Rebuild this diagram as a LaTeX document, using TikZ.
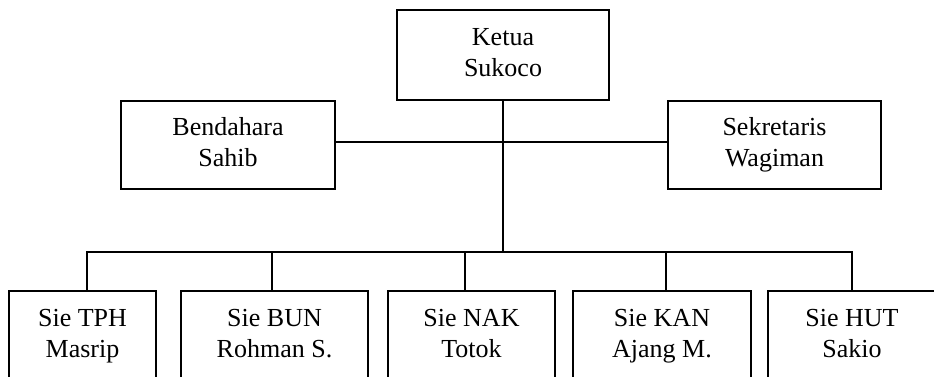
\documentclass[tikz,border=0pt]{standalone}
\usepackage{fontspec}
\setmainfont{Liberation Serif}
\begin{document}
\begin{tikzpicture}[x=1pt,y=-1pt,
  box/.style={draw,line width=1.1pt,inner sep=0pt,align=center,
    font=\fontsize{26}{31}\selectfont},
  line/.style={line width=1.1pt}]
\useasboundingbox (0,0) rectangle (934,376);
\clip (0,0) rectangle (934,376);
% top level
\node[box,minimum width=212pt,minimum height=90pt] (ketua) at (503,55) {\strut Ketua\\\strut Sukoco};
\node[box,minimum width=214pt,minimum height=88pt] (bend) at (228,145) {\strut Bendahara\\\strut Sahib};
\node[box,minimum width=213pt,minimum height=88pt] (sekr) at (774.5,145) {\strut Sekretaris\\\strut Wagiman};
% sections
\node[box,minimum width=147pt,minimum height=90pt] (tph) at (82.5,336) {\strut Sie TPH\\\strut Masrip};
\node[box,minimum width=187pt,minimum height=90pt] (bun) at (274.5,336) {\strut Sie BUN\\\strut Rohman S.};
\node[box,minimum width=167pt,minimum height=90pt] (nak) at (471.5,336) {\strut Sie NAK\\\strut Totok};
\node[box,minimum width=178pt,minimum height=90pt] (kan) at (662,336) {\strut Sie KAN\\\strut Ajang M.};
\node[box,minimum width=168pt,minimum height=90pt] (hut) at (852,336) {\strut Sie HUT\\\strut Sakio};
\coordinate (hub) at (503,252);
% connectors
\draw[line] ([yshift=3pt]bend.east) -- ([yshift=3pt]sekr.west);
\draw[line] (ketua.south) -- (hub);
\draw[line] ([xshift=4.5pt]tph.north) |- (hub) -| (hut.north);
\draw[line] ([xshift=-2.5pt]bun.north) |- (hub);
\draw[line] ([xshift=-6.5pt]nak.north) |- (hub);
\draw[line] ([xshift=4pt]kan.north) |- (hub);
\end{tikzpicture}
\end{document}
